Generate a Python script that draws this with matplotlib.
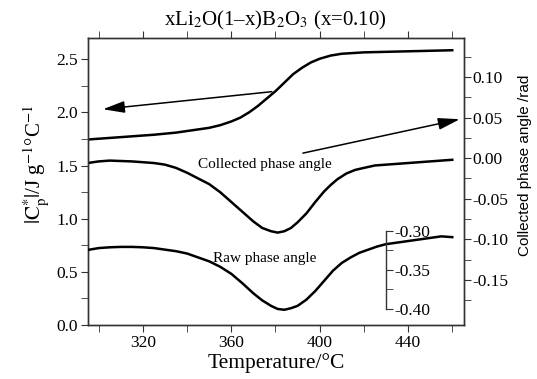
import matplotlib
matplotlib.use("Agg")
import matplotlib.pyplot as plt
from matplotlib.ticker import MultipleLocator, FormatStrFormatter

plt.rcParams['font.family'] = ['Liberation Serif', 'DejaVu Serif']
plt.rcParams['mathtext.fontset'] = 'stix'
plt.rcParams['axes.unicode_minus'] = False

# |Cp*| curve (left axis, J g^-1 °C^-1)
t_cp = [295, 305, 315, 325, 335, 345, 350, 355, 360, 364, 368, 372, 376, 380,
        384, 388, 392, 396, 400, 405, 410, 420, 430, 440, 450, 460]
cp = [1.745, 1.76, 1.775, 1.79, 1.81, 1.84, 1.855, 1.88, 1.915, 1.95, 2.00,
      2.06, 2.13, 2.20, 2.28, 2.36, 2.42, 2.47, 2.505, 2.535, 2.552, 2.565,
      2.57, 2.575, 2.58, 2.585]

# collected phase angle (right axis, rad)
t_col = [295, 300, 305, 310, 315, 320, 325, 330, 335, 340, 345, 350, 355, 360,
         365, 370, 374, 378, 381, 384, 387, 390, 394, 398, 402, 405, 408, 412,
         416, 420, 425, 430, 435, 440, 445, 450, 455, 460]
col = [-0.006, -0.004, -0.003, -0.0035, -0.004, -0.005, -0.006, -0.008, -0.012,
       -0.018, -0.025, -0.032, -0.042, -0.054, -0.066, -0.078, -0.086, -0.090,
       -0.0917, -0.090, -0.086, -0.079, -0.068, -0.054, -0.041, -0.033, -0.026,
       -0.019, -0.0145, -0.012, -0.009, -0.008, -0.007, -0.006, -0.005, -0.004,
       -0.003, -0.002]

# raw phase angle (inset axis, rad)
t_raw = [295, 300, 305, 310, 315, 320, 325, 330, 335, 340, 345, 350, 355, 360,
         365, 370, 374, 378, 381, 384, 387, 390, 394, 398, 402, 406, 410, 414,
         418, 422, 426, 430, 435, 440, 445, 450, 455, 460]
raw = [-0.3244, -0.322, -0.321, -0.3205, -0.3205, -0.321, -0.322, -0.324,
       -0.326, -0.329, -0.334, -0.339, -0.346, -0.355, -0.367, -0.380, -0.389,
       -0.396, -0.400, -0.401, -0.399, -0.396, -0.388, -0.377, -0.364, -0.351,
       -0.341, -0.334, -0.328, -0.324, -0.320, -0.317, -0.315, -0.313, -0.311,
       -0.309, -0.307, -0.308]

fig = plt.figure(figsize=(5.37, 3.79), dpi=100)
ax = fig.add_axes([0.1633, 0.1425, 0.7007, 0.7572])
ax2 = ax.twinx()
ax3 = ax.twinx()

lw_curve = 1.8
ax.plot(t_cp, cp, color='black', lw=lw_curve)
ax2.plot(t_col, col, color='black', lw=lw_curve)
ax3.plot(t_raw, raw, color='black', lw=lw_curve)

ax.set_xlim(295, 465.3)
ax.set_ylim(0, 2.7)
ax2.set_ylim(-0.2055, 0.148)
ax3.set_ylim(-0.4205, -0.053)

spine_c = '#333333'
for a in (ax, ax2, ax3):
    for s in a.spines.values():
        s.set_color(spine_c)
        s.set_linewidth(1.0)

ax.xaxis.set_major_locator(MultipleLocator(40))
ax.xaxis.set_minor_locator(MultipleLocator(20))
ax.yaxis.set_major_locator(MultipleLocator(0.5))
ax.yaxis.set_minor_locator(MultipleLocator(0.25))
ax.yaxis.set_major_formatter(FormatStrFormatter('%.1f'))
ax.tick_params(which='both', direction='out', top=True, labelsize=12.5,
               color=spine_c, pad=2, length=5)

ax2.set_yticks([-0.15, -0.10, -0.05, 0.00, 0.05, 0.10])
ax2.set_yticks([-0.175, -0.125, -0.075, -0.025, 0.025, 0.075, 0.125], minor=True)
ax2.yaxis.set_major_formatter(FormatStrFormatter('%.2f'))
ax2.tick_params(which='both', direction='out', length=5, labelsize=12.5,
                color=spine_c, pad=1)

# inset axis for raw phase angle
for s in ('left', 'top', 'bottom'):
    ax3.spines[s].set_visible(False)
ax3.spines['right'].set_position(('data', 430))
ax3.spines['right'].set_bounds(-0.40, -0.30)
ax3.set_yticks([-0.40, -0.35, -0.30])
ax3.set_yticks([-0.375, -0.325], minor=True)
ax3.yaxis.set_major_formatter(FormatStrFormatter('%.2f'))
ax3.tick_params(which='both', direction='out', length=5, labelsize=12.5,
                color=spine_c, pad=1)

ax.set_xlabel('Temperature/°C', fontsize=15.5, labelpad=2)
ax.set_ylabel(r'$|\mathrm{C}^{*}_{\mathrm{p}}|$/J g$^{-1}$°C$^{-1}$', fontsize=15, labelpad=4)
ax.yaxis.label.set_y(0.56)
ax2.set_ylabel('Collected phase angle /rad', fontsize=11,
               family=['Liberation Sans', 'DejaVu Sans'], labelpad=7)
ax2.yaxis.label.set_y(0.557)
ax.set_title(r'xLi$_2$O(1–x)B$_2$O$_3$ (x=0.10)', fontsize=15, pad=9)

ax.text(375, 1.51, 'Collected phase angle', fontsize=11, ha='center', va='center')
ax.text(375, 0.63, 'Raw phase angle', fontsize=11, ha='center', va='center')

arrow = dict(arrowstyle='-|>,head_length=1.1,head_width=0.3', lw=1.1,
             color='black', mutation_scale=12, shrinkA=0, shrinkB=0)
ax.annotate('', xy=(301.9, 2.03), xytext=(378.3, 2.195), arrowprops=arrow)
ax.annotate('', xy=(463.4, 1.936), xytext=(392.4, 1.617), arrowprops=arrow)

fig.savefig('out.png', dpi=100)
